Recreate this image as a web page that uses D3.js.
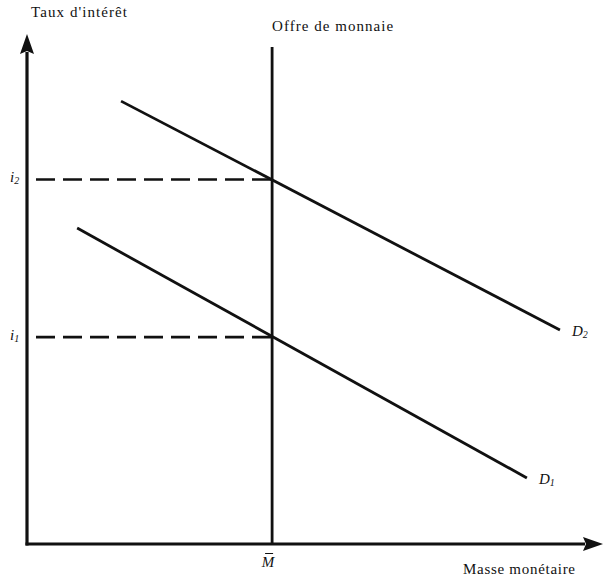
<!DOCTYPE html>
<html lang="fr">
  <head>
    <meta charset="utf-8" />
    <title>Offre et demande de monnaie</title>
    <script src="https://d3js.org/d3.v7.min.js" charset="utf-8"></script>
    <style>
      body { margin: 0; background: #fff; }
      text { font-family: "Liberation Serif", "DejaVu Serif", serif; fill: #111; }
    </style>
  </head>
  <body>
    <div id="graph-container"></div>
    <script type="text/javascript">
      // data (arbitrary units, 0..100 on both axes)
      const supplyM = 43;
      const rateLevels = [40.4, 71.2];
      const rateSubs = ["1", "2"];
      const demandNames = ["D1", "D2"];
      const demandD1 = [[8.8, 61.7], [87.7, 12.9]];
      const demandD2 = [[16.5, 86.5], [93.5, 41.8]];

      const cW = 604,
        cH = 577;

      const svg = d3
        .select("#graph-container")
        .append("svg")
        .attr("width", cW)
        .attr("height", cH);

      const xScale = d3.scaleLinear().domain([0, 100]).range([27, 597]);
      const yScale = d3.scaleLinear().domain([0, 100]).range([544, 32]);

      const ink = "#111";

      //arrow heads
      const defs = svg.append("defs");
      defs
        .append("marker")
        .attr("id", "arrow")
        .attr("markerUnits", "userSpaceOnUse")
        .attr("viewBox", "0 0 20 14")
        .attr("refX", 2)
        .attr("refY", 7)
        .attr("markerWidth", 20)
        .attr("markerHeight", 14)
        .attr("orient", "auto")
        .append("path")
        .attr("d", "M0,0 L20,7 L0,14 L3,7 Z")
        .attr("fill", ink);

      //axes
      svg
        .append("line")
        .attr("x1", xScale(0))
        .attr("y1", yScale(0) + 1.5)
        .attr("x2", xScale(0))
        .attr("y2", yScale(100) + 20)
        .attr("stroke", ink)
        .attr("stroke-width", 3.2)
        .attr("marker-end", "url(#arrow)");
      svg
        .append("line")
        .attr("x1", xScale(0) - 1.5)
        .attr("y1", yScale(0))
        .attr("x2", xScale(100) - 12)
        .attr("y2", yScale(0))
        .attr("stroke", ink)
        .attr("stroke-width", 3.2)
        .attr("marker-end", "url(#arrow)");

      //axis titles
      svg
        .append("text")
        .attr("x", 31)
        .attr("y", 17)
        .attr("font-size", 15)
        .attr("textLength", 96)
        .attr("lengthAdjust", "spacing")
        .text("Taux d'intérêt");
      svg
        .append("text")
        .attr("x", 463)
        .attr("y", 574)
        .attr("font-size", 15)
        .attr("textLength", 112)
        .attr("lengthAdjust", "spacing")
        .text("Masse monétaire");

      //money supply
      svg
        .append("line")
        .attr("x1", xScale(supplyM))
        .attr("y1", yScale(0))
        .attr("x2", xScale(supplyM))
        .attr("y2", 47)
        .attr("stroke", ink)
        .attr("stroke-width", 2.8);
      svg
        .append("text")
        .attr("x", xScale(supplyM))
        .attr("y", 31)
        .attr("font-size", 15)
        .attr("textLength", 121)
        .attr("lengthAdjust", "spacing")
        .text("Offre de monnaie");
      svg
        .append("text")
        .attr("x", xScale(supplyM) - 4)
        .attr("y", 567)
        .attr("font-size", 15)
        .attr("font-style", "italic")
        .attr("text-anchor", "middle")
        .text("M");
      svg
        .append("line")
        .attr("x1", xScale(supplyM) - 7)
        .attr("x2", xScale(supplyM) + 1)
        .attr("y1", 553.5)
        .attr("y2", 553.5)
        .attr("stroke", ink)
        .attr("stroke-width", 1);

      //rate levels (dashed)
      svg
        .selectAll(".rate")
        .data(rateLevels)
        .enter()
        .append("line")
        .attr("class", "rate")
        .attr("x1", 36)
        .attr("x2", xScale(supplyM))
        .attr("y1", (d) => yScale(d))
        .attr("y2", (d) => yScale(d))
        .attr("stroke", ink)
        .attr("stroke-width", 2.6)
        .attr("stroke-dasharray", "19,8");
      const rateText = svg
        .selectAll(".rate-label")
        .data(rateLevels)
        .enter()
        .append("text")
        .attr("class", "rate-label")
        .attr("x", 10)
        .attr("y", (d) => yScale(d) + 3)
        .attr("font-size", 15)
        .attr("font-style", "italic");
      rateText.append("tspan").text("i");
      rateText
        .append("tspan")
        .attr("font-size", 10)
        .attr("dy", 2)
        .text((d, i) => rateSubs[i]);

      //demand curves
      const demands = [demandD1, demandD2];
      const line = d3
        .line()
        .x((d) => xScale(d[0]))
        .y((d) => yScale(d[1]));
      svg
        .selectAll(".demand")
        .data(demands)
        .enter()
        .append("path")
        .attr("class", "demand")
        .attr("d", line)
        .attr("fill", "none")
        .attr("stroke", ink)
        .attr("stroke-width", 2.8);
      const dText = svg
        .selectAll(".demand-label")
        .data(demands)
        .enter()
        .append("text")
        .attr("class", "demand-label")
        .attr("x", (d) => xScale(d[1][0]) + 12)
        .attr("y", (d) => yScale(d[1][1]) + 6)
        .attr("font-size", 15)
        .attr("font-style", "italic");
      dText.append("tspan").text((d, i) => demandNames[i][0]);
      dText
        .append("tspan")
        .attr("font-size", 10)
        .attr("dy", 2)
        .text((d, i) => demandNames[i].slice(1));
    </script>
  </body>
</html>
